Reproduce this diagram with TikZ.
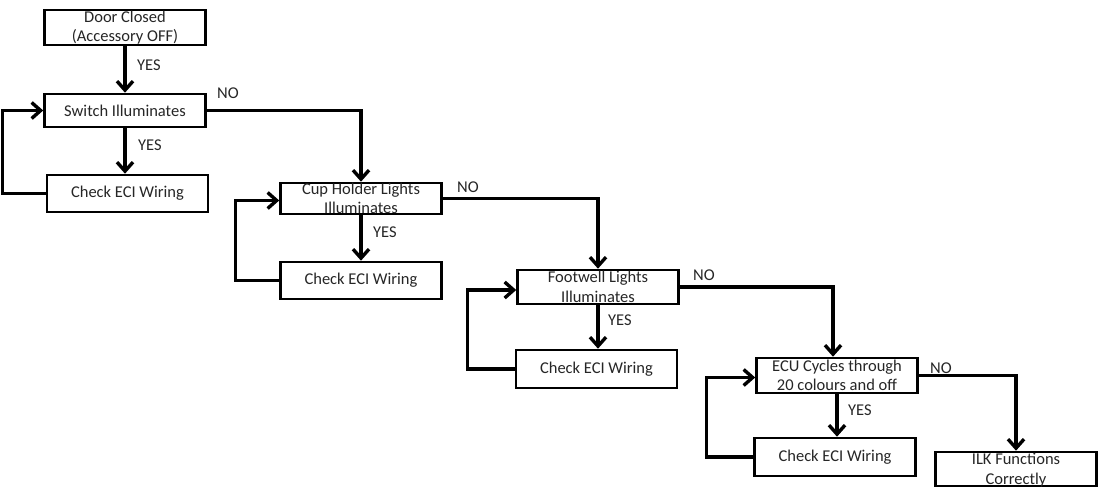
\documentclass[tikz,border=0pt]{standalone}
\usepackage{fontspec}
\setmainfont{Carlito}
\usetikzlibrary{arrows.meta}
\begin{document}
\begin{tikzpicture}[x=1pt,y=-1pt,
  box/.style={draw=black,line width=2.6pt,minimum width=161pt,inner sep=0pt,fill=white},
  txt/.style={font=\fontsize{16.5}{19.5}\selectfont,align=center,inner sep=0pt,text=black!85},
  lbl/.style={font=\fontsize{16.5}{19.5}\selectfont,anchor=west,inner sep=0pt,text=black!85},
  conn/.style={line width=3.4pt,-{Straight Barb[length=9pt,width=16pt,line width=3.4pt]}}]
\useasboundingbox (0,0) rectangle (1107,487);
\clip (0,0) rectangle (1107,487);
% boxes
\node[box,minimum height=35pt] (door) at (125,27.5) {};
\node[txt] (doorT) at (door) {Door Closed\\(Accessory OFF)};
\node[box,minimum height=33pt] (sw) at (125,110.5) {};
\node[txt] (swT) at (sw) {Switch Illuminates};
\node[box,minimum height=37pt] (c1) at (127.5,193.5) {};
\node[txt] (c1T) at (c1) {Check ECI Wiring};
\node[box,minimum height=31pt] (cup) at (361,198.5) {};
\node[txt] (cupT) at (cup) {Cup Holder Lights\\Illuminates};
\node[box,minimum height=37pt] (c2) at (361,280.5) {};
\node[txt] (c2T) at (c2) {Check ECI Wiring};
\node[box,minimum height=34pt] (foot) at (598,287) {};
\node[txt] (footT) at (foot) {Footwell Lights\\Illuminates};
\node[box,minimum height=38pt] (c3) at (596.5,369) {};
\node[txt] (c3T) at (c3) {Check ECI Wiring};
\node[box,minimum height=35pt] (ecu) at (837,375.5) {};
\node[txt] (ecuT) at (ecu) {ECU Cycles through\\20 colours and off};
\node[box,minimum height=38pt] (c4) at (835,457) {};
\node[txt] (c4T) at (c4) {Check ECI Wiring};
\node[box,minimum height=34pt] (ilk) at (1016,469) {};
\node[txt] (ilkT) at (1016,470) {ILK Functions\\Correctly};
% YES arrows
\draw[conn] (door.south) -- (sw.north);
\draw[conn] (sw.south) -- (sw.south |- c1.north);
\draw[conn] (cup.south) -- (c2.north);
\draw[conn] (foot.south) -- (foot.south |- c3.north);
\draw[conn] (ecu.south) -- (ecu.south |- c4.north);
% NO arrows
\draw[conn] (sw.east) -| (cup.north);
\draw[conn] (cup.east) -| (foot.north);
\draw[conn] (foot.east) -| ([xshift=-4pt]ecu.north);
\draw[conn] (ecu.east) -| (ilk.north);
% loops
\draw[conn] (c1.west) -- ++(-43,0) |- (sw.west);
\draw[conn] (c2.west) -- ++(-44,0) |- ([yshift=-2pt]cup.west);
\draw[conn] (c3.west) -- ++(-47,0) |- ([yshift=-3pt]foot.west);
\draw[conn] (c4.west) -- ++(-47,0) |- ([yshift=-2pt]ecu.west);
% labels
\node[lbl] (y1) at (137,65) {YES};
\node[lbl] (y2) at (138,145) {YES};
\node[lbl] (y3) at (373,232) {YES};
\node[lbl] (y4) at (608,320) {YES};
\node[lbl] (y5) at (848,410) {YES};
\node[lbl] (n1) at (217,93) {NO};
\node[lbl] (n2) at (457,187) {NO};
\node[lbl] (n3) at (693,275) {NO};
\node[lbl] (n4) at (930,368) {NO};
\end{tikzpicture}
\end{document}
